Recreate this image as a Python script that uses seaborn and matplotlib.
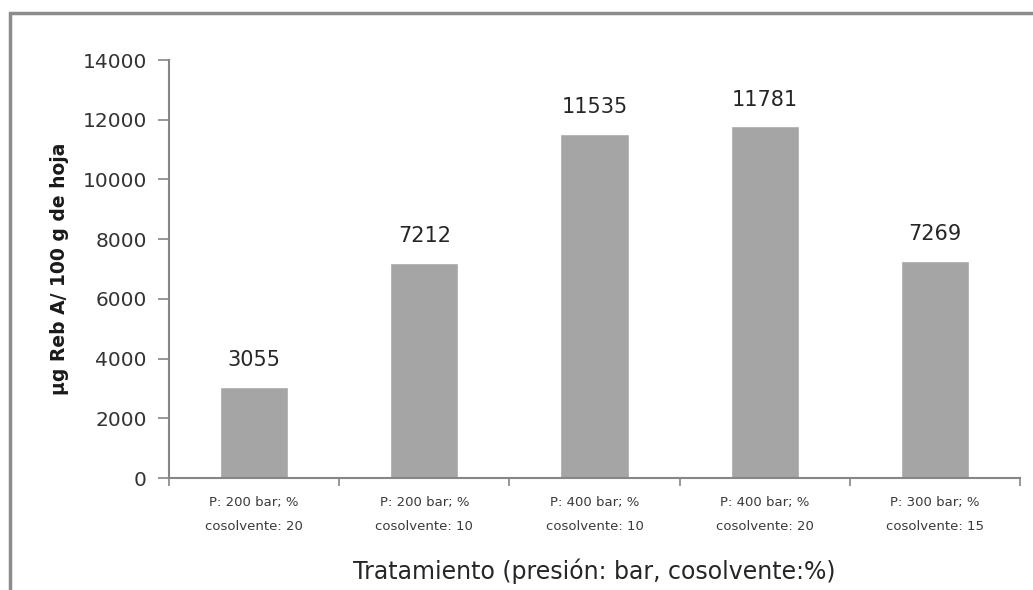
import matplotlib
matplotlib.use("Agg")
import matplotlib.pyplot as plt
from matplotlib.patches import Rectangle
import seaborn as sns
import numpy as np

# ===== Data =====
tratamientos = [
    "P: 200 bar; %\ncosolvente: 20",
    "P: 200 bar; %\ncosolvente: 10",
    "P: 400 bar; %\ncosolvente: 10",
    "P: 400 bar; %\ncosolvente: 20",
    "P: 300 bar; %\ncosolvente: 15",
]
reb_a = [3055, 7212, 11535, 11781, 7269]
y_ticks = [0, 2000, 4000, 6000, 8000, 10000, 12000, 14000]

sns.set_style("white")
plt.rcParams["font.family"] = ["DejaVu Sans"]

fig = plt.figure(figsize=(10.33, 5.9), dpi=100)
ax = fig.add_axes([169 / 1033, 1 - 478 / 590, (1020 - 169) / 1033, (478 - 60) / 590])

sns.barplot(x=tratamientos, y=reb_a, color="#A5A5A5", width=0.4,
            saturation=1, ax=ax)

# value labels
ax.bar_label(ax.containers[0], labels=[str(v) for v in reb_a],
             padding=12, fontsize=15, color="#262626")

ax.set_ylim(0, 14000)
ax.set_yticks(y_ticks)
ax.set_xlim(-0.5, len(tratamientos) - 0.5)

# ticks between categories
ax.set_xticks(np.arange(-0.5, len(tratamientos)), minor=True)
ax.tick_params(axis="x", which="major", length=0, labelsize=9.5,
               labelcolor="#3a3a3a", pad=13)
ax.tick_params(axis="x", which="minor", length=6, width=1.2,
               color="#868686", direction="out", bottom=True)
ax.tick_params(axis="y", length=8, width=1.2, color="#868686",
               direction="out", left=True, labelsize=14.5,
               labelcolor="#333333", pad=8)
for lbl in ax.get_xticklabels():
    lbl.set_linespacing(2.1)

for side in ["top", "right"]:
    ax.spines[side].set_visible(False)
for side in ["left", "bottom"]:
    ax.spines[side].set_color("#868686")
    ax.spines[side].set_linewidth(1.5)

ax.set_xlabel("Tratamiento (presión: bar, cosolvente:%)", fontsize=17,
              color="#262626", labelpad=18)
ax.set_ylabel("μg Reb A/ 100 g de hoja", fontsize=13.5, fontweight="bold",
              color="#1a1a1a", labelpad=10)

# outer frame (chart area border, cut off on right and bottom)
fig.add_artist(Rectangle((9.5 / 1033, -0.2), 1.2, (590 - 12.5) / 590 + 0.2,
                         fill=False, edgecolor="#8c8c8c", linewidth=2.5,
                         transform=fig.transFigure))

fig.savefig("out.png", dpi=100)
